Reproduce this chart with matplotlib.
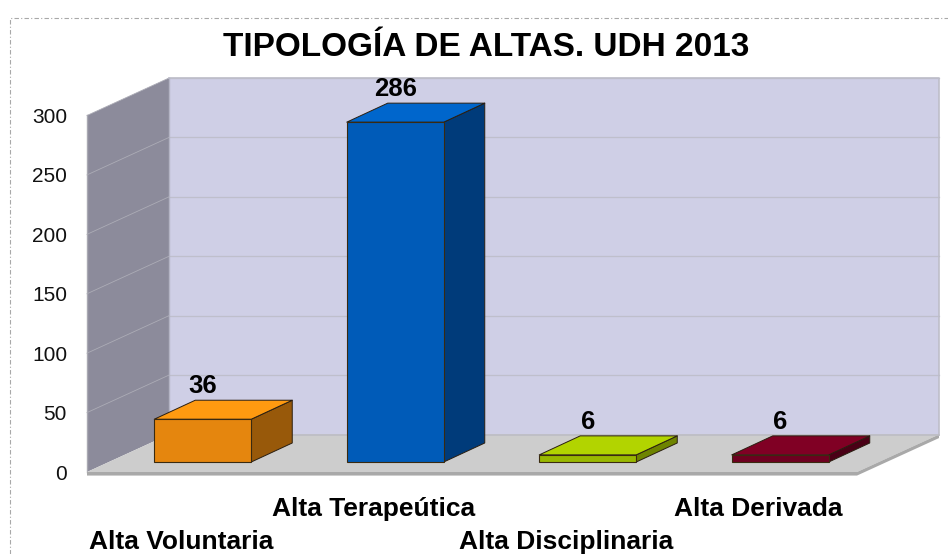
import matplotlib
matplotlib.use("AGG")
import matplotlib.pyplot as plt
from matplotlib.patches import Polygon
from matplotlib.lines import Line2D

categories = ["Alta Voluntaria", "Alta Terapeútica", "Alta Disciplinaria", "Alta Derivada"]
values = [36, 286, 6, 6]
yticks = [0, 50, 100, 150, 200, 250, 300]
front_colors = ["#E5860E", "#005BB8", "#99B800", "#6E0020"]
top_colors = ["#FF9A10", "#0066CC", "#B2D400", "#800024"]
side_colors = ["#98590A", "#003B7A", "#6E8400", "#4A0016"]

W, H = 948, 554
plt.rcParams["font.family"] = ["Liberation Sans", "DejaVu Sans"]

fig = plt.figure(figsize=(W / 100, H / 100), dpi=100)
# front plane of the fake 3d box, in pixels of the reference
ax = fig.add_axes([87 / W, 1 - 472 / H, 770 / W, 356.5 / H])
ax.set_xlim(-0.5, 3.5)
ax.set_ylim(0, 300)
for s in ax.spines.values():
    s.set_visible(False)
ax.patch.set_visible(False)

# depth of box and of bars, in data units
px_y = 356.5 / 300
wall_dx = 82 / 192.5
wall_dy = 37.5 / px_y
bar_dx = 41 / 192.5
bar_dy = 19 / px_y
bar_w = 97 / 192.5
shift = 19.5 / 192.5
base = 10 / px_y


def face(pts, color, edge="none", lw=0, z=1):
    ax.add_patch(Polygon(pts, closed=True, facecolor=color, edgecolor=edge, linewidth=lw,
                         zorder=z, clip_on=False, joinstyle="round"))


left, right = -0.5, 3.5
# back wall, side wall, floor
face([(left + wall_dx, wall_dy), (right + wall_dx, wall_dy), (right + wall_dx, 300 + wall_dy),
      (left + wall_dx, 300 + wall_dy)], "#CFCFE6", z=1)
face([(left, 0), (left + wall_dx, wall_dy), (left + wall_dx, 300 + wall_dy), (left, 300)], "#8C8B9B", z=1)
face([(left, 0), (right, 0), (right + wall_dx, wall_dy), (left + wall_dx, wall_dy)], "#CDCDCD", z=2)
# floor thickness
face([(left, 0), (right, 0), (right + wall_dx, wall_dy), (right + wall_dx, wall_dy - 3),
      (right, -3), (left, -3)], "#A9A9A9", z=2)

for t in yticks[1:]:
    ax.plot([left + wall_dx, right + wall_dx], [t + wall_dy, t + wall_dy], color="#BFBFCC", lw=0.9,
            zorder=1.5, clip_on=False)
    ax.plot([left, left + wall_dx], [t, t + wall_dy], color="#ACACB6", lw=0.6, zorder=1.5, clip_on=False)
# box outline
ax.plot([left + wall_dx, right + wall_dx, right + wall_dx], [300 + wall_dy, 300 + wall_dy, wall_dy],
        color="#BDBDC9", lw=1.2, zorder=1.5, clip_on=False)
ax.plot([left + wall_dx, right + wall_dx], [wall_dy, wall_dy], color="#BDBDC4", lw=1.2, zorder=2.5,
        clip_on=False)
ax.plot([left, left], [0, 300], color="#A9A9B2", lw=1, zorder=1.5, clip_on=False)
ax.plot([left + wall_dx, left + wall_dx], [wall_dy, 300 + wall_dy], color="#B4B4C4", lw=1, zorder=1.5,
        clip_on=False)

# bars
xs = [i + shift for i in range(len(values))]
ax.bar(xs, values, bottom=base, width=bar_w, color=front_colors, edgecolor="#3A2A10", linewidth=0.8,
       zorder=4, clip_on=False)
for x, v, ctop, cside in zip(xs, values, top_colors, side_colors):
    x0, x1 = x - bar_w / 2, x + bar_w / 2
    y0, y1 = base, base + v
    face([(x1, y0), (x1 + bar_dx, y0 + bar_dy), (x1 + bar_dx, y1 + bar_dy), (x1, y1)], cside,
         "#2A1E10", 0.7, z=3)
    face([(x0, y1), (x1, y1), (x1 + bar_dx, y1 + bar_dy), (x0 + bar_dx, y1 + bar_dy)], ctop,
         "#2A1E10", 0.7, z=3)
    ax.annotate(str(v), (x, y1 + bar_dy), xytext=(0, 14), textcoords="offset pixels", ha="center",
                va="center", fontsize=18.5, fontweight="bold", color="black", zorder=6,
                annotation_clip=False)

# axis labels
ax.set_yticks(yticks)
ax.tick_params(axis="y", length=0, pad=14.4, labelsize=15, labelcolor="#111111")
ax.set_xticks([i - 2 / 192.5 for i in range(len(categories))])
ax.set_xticklabels(categories, fontsize=19, fontweight="bold")
ax.tick_params(axis="x", length=0)
for i, tick in enumerate(ax.xaxis.get_major_ticks()):
    tick.set_pad(18 if i % 2 else 42)

fig.text(486 / W, 1 - 47 / H, "TIPOLOGÍA DE ALTAS. UDH 2013", ha="center", va="center", fontsize=24,
         fontweight="bold", color="black")

# dashed frame of the original slide object
fig.add_artist(Line2D([9.5 / W, 9.5 / W, 1], [0, 1 - 17.5 / H, 1 - 17.5 / H], color="#A8A8A8", lw=0.8,
                      ls=(0, (4, 2, 1, 2))))

fig.savefig("out.png", dpi=100)
